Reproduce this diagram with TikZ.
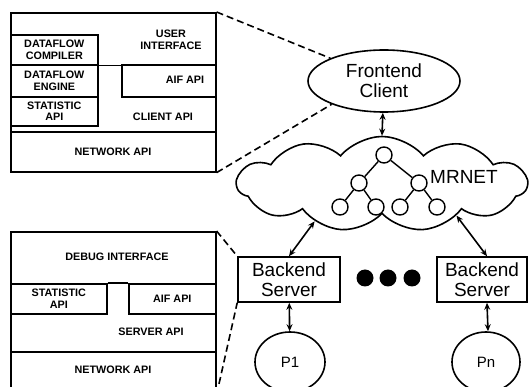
\documentclass[tikz,border=0pt]{standalone}
\usepackage{fontspec}
\setmainfont{Liberation Sans}
\usetikzlibrary{arrows.meta,positioning,shapes.geometric,shapes.symbols}

\tikzset{
  layer/.style={draw,line width=1.6pt,inner sep=0pt,anchor=north west},
  lbl/.style={font=\fontsize{10.8}{11.5}\selectfont\bfseries,align=center,inner sep=0pt},
  big/.style={font=\fontsize{19}{20}\selectfont,align=center},
  link/.style={{Stealth[length=7pt,width=6pt]}-{Stealth[length=7pt,width=6pt]},line width=1.6pt},
  zoomline/.style={line width=1.6pt,dash pattern=on 7pt off 4pt},
  treenode/.style={circle,draw,line width=1.4pt,minimum size=16pt,inner sep=0pt,fill=white},
  dot/.style={circle,fill=black,minimum size=17pt,inner sep=0pt},
}

\begin{document}
\begin{tikzpicture}[x=1pt,y=-1pt]
    \useasboundingbox (0,0) rectangle (531,387);
    \clip (0,0) rectangle (531,387);

    % client side stack
    \node[layer,minimum width=205pt,minimum height=159pt] (cli) at (10,12) {};
    \node[layer,minimum width=87pt,minimum height=30pt] (comp) at (10,34) {};
    \node[layer,minimum width=87pt,minimum height=32pt] (eng) at (10,64) {};
    \node[layer,minimum width=87pt,minimum height=29pt] (cstat) at (10,96) {};
    \node[layer,minimum width=94pt,minimum height=32pt] (caif) at (121,64) {};
    \draw[line width=1.6pt] (comp.south east) -- (comp.south east -| cli.east);
    \draw[line width=1.6pt] (10,132) -- (215,132);
    \node[lbl] (cuser) at (171,40) {USER\\INTERFACE};
    \node[lbl] (ccomp) at (comp) {DATAFLOW\\COMPILER};
    \node[lbl] (ceng) at (eng) {DATAFLOW\\ENGINE};
    \node[lbl] (cstatl) at (cstat) {STATISTIC\\API};
    \node[lbl] (caifl) at (185,80) {AIF API};
    \node[lbl] (capi) at (163,117) {CLIENT API};
    \node[lbl] (cnet) at (113,152) {NETWORK API};

    % server side stack
    \node[layer,minimum width=205pt,minimum height=162pt] (srv) at (10,231) {};
    \node[layer,minimum width=96pt,minimum height=30pt] (sstat) at (10,283) {};
    \node[layer,minimum width=87pt,minimum height=30pt] (saif) at (128,283) {};
    \draw[line width=1.6pt] (sstat.north east) -- (saif.north west);
    \draw[line width=1.6pt] (10,352) -- (215,352);
    \node[lbl] (sdbg) at (117,257) {DEBUG INTERFACE};
    \node[lbl] (sstatl) at (sstat) {STATISTIC\\API};
    \node[lbl] (saifl) at (saif) {AIF API};
    \node[lbl] (sapi) at (151,332) {SERVER API};
    \node[lbl] (snet) at (113,370) {NETWORK API};

    % network
    \node[ellipse,draw,line width=1.6pt,minimum width=152pt,minimum height=62pt,big,inner sep=0pt] (fe) at (384,81) {Frontend\\Client};
    \node[cloud,draw,line width=1.6pt,cloud puffs=11,cloud puff arc=100,minimum width=290pt,minimum height=95pt] (net) at (382,184) {};
    \node[treenode] (r) at (384,155) {};
    \node[treenode] (a) at (359,183) {};
    \node[treenode] (b) at (419,183) {};
    \node[treenode] (a1) at (340,207) {};
    \node[treenode] (a2) at (376,207) {};
    \node[treenode] (b1) at (400,207) {};
    \node[treenode] (b2) at (437,207) {};
    \draw[line width=1.4pt] (r) -- (a) (r) -- (b) (a) -- (a1) (a) -- (a2) (b) -- (b1) (b) -- (b2);
    \node[big] (mrnet) at (464,177) {MRNET};

    \node[draw,line width=1.6pt,big,minimum width=102pt,minimum height=45pt,inner sep=0pt] (be1) at (289,279.5) {Backend\\Server};
    \node[draw,line width=1.6pt,big,minimum width=90pt,minimum height=45pt,inner sep=0pt] (be2) at (482,279.5) {Backend\\Server};
    \node[dot] (d1) at (365,278) {};
    \node[dot] (d2) at (388,278) {};
    \node[dot] (d3) at (412,278) {};

    \node[ellipse,draw,line width=1.6pt,minimum width=70pt,minimum height=60pt,inner sep=0pt,font=\fontsize{15}{16}\selectfont] (p1) at (290,362) {P1};
    \node[ellipse,draw,line width=1.6pt,minimum width=68pt,minimum height=60pt,inner sep=0pt,font=\fontsize{15}{16}\selectfont] (pn) at (486,362) {Pn};

    \draw[link] (fe) -- (net.north);
    \draw[link] (net.209) -- (be1.north);
    \draw[link] (net.337) -- ([xshift=5pt]be2.north);
    \draw[link] (be1) -- (p1);
    \draw[link] ([xshift=5pt]be2.south) -- ([xshift=2pt]pn.north);

    \draw[zoomline] (cli.north east) -- (fe.157);
    \draw[zoomline] (cli.south east) -- (fe.204);
    \draw[zoomline] (srv.north east) -- (be1.north west);
    \draw[zoomline] (srv.south east) -- (be1.south west);
\end{tikzpicture}
\end{document}
